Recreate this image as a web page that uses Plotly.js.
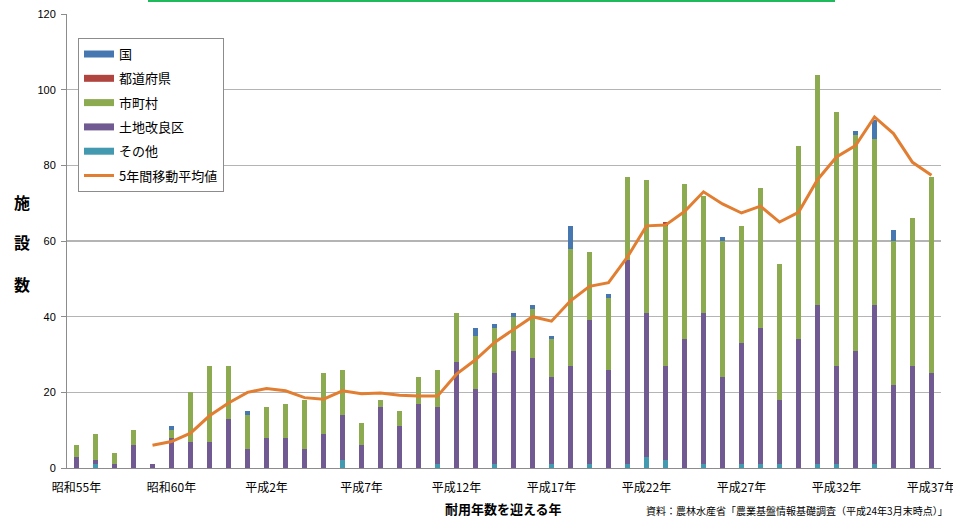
<!DOCTYPE html>
<html>
<head>
<meta charset="utf-8">
<script src="https://cdn.plot.ly/plotly-3.0.1.min.js"></script>
<style>
  html, body { margin: 0; padding: 0; background: #fff; }
  #chart { width: 953px; height: 518px; }
</style>
</head>
<body>
<div id="chart"></div>
<script>
// 耐用年数を迎える年 (西暦)
const years = [1980, 1981, 1982, 1983, 1984, 1985, 1986, 1987, 1988, 1989,
               1990, 1991, 1992, 1993, 1994, 1995, 1996, 1997, 1998, 1999,
               2000, 2001, 2002, 2003, 2004, 2005, 2006, 2007, 2008, 2009,
               2010, 2011, 2012, 2013, 2014, 2015, 2016, 2017, 2018, 2019,
               2020, 2021, 2022, 2023, 2024, 2025];

// 目盛りに表示する年と和暦表記
const tickYears  = [1980, 1985, 1990, 1995, 2000, 2005, 2010, 2015, 2020, 2025];
const tickLabels = ['昭和55年', '昭和60年', '平成2年', '平成7年', '平成12年',
                    '平成17年', '平成22年', '平成27年', '平成32年', '平成37年'];

// 管理主体別の施設数
const sonota     = [0, 1, 0, 0, 0, 0, 0, 0, 0, 0,
                    0, 0, 0, 0, 2, 0, 0, 0, 0, 1,
                    0, 0, 1, 0, 0, 1, 0, 1, 0, 1,
                    3, 2, 0, 1, 0, 1, 1, 1, 0, 1,
                    1, 0, 1, 0, 0, 0];
const kairyoku   = [3, 1, 1, 6, 1, 8, 7, 7, 13, 5,
                    8, 8, 5, 9, 12, 6, 16, 11, 17, 15,
                    28, 21, 24, 31, 29, 23, 27, 38, 26, 54,
                    38, 25, 34, 40, 24, 32, 36, 17, 34, 42,
                    26, 31, 42, 22, 27, 25];
const shichoson  = [3, 7, 3, 4, 0, 2, 13, 20, 14, 9,
                    8, 9, 13, 16, 12, 6, 2, 4, 7, 10,
                    13, 14, 12, 9, 13, 10, 31, 18, 19, 22,
                    35, 37, 41, 31, 36, 31, 37, 36, 51, 61,
                    67, 57, 44, 38, 39, 52];
const todofuken  = [0, 0, 0, 0, 0, 0, 0, 0, 0, 0,
                    0, 0, 0, 0, 0, 0, 0, 0, 0, 0,
                    0, 0, 0, 0, 0, 0, 0, 0, 0, 0,
                    0, 1, 0, 0, 0, 0, 0, 0, 0, 0,
                    0, 0, 0, 0, 0, 0];
const kuni       = [0, 0, 0, 0, 0, 1, 0, 0, 0, 1,
                    0, 0, 0, 0, 0, 0, 0, 0, 0, 0,
                    0, 2, 1, 1, 1, 1, 6, 0, 1, 0,
                    0, 0, 0, 0, 1, 0, 0, 0, 0, 0,
                    0, 1, 5, 3, 0, 0];

// 5年間移動平均値
const movingAvg  = [null, null, null, null, 6, 7, 9.2, 13.8, 17.2, 20,
                    21, 20.4, 18.6, 18.2, 20.4, 19.6, 19.8, 19.2, 19.0, 19.0,
                    24.8, 28.6, 33.2, 36.6, 40, 38.8, 44.2, 48, 49, 55.8,
                    64, 64.2, 67.8, 73, 69.8, 67.4, 69.2, 65, 67.6, 76.2,
                    82.2, 85.2, 92.8, 88.4, 80.8, 77.4];

const colors = {
  kuni: '#4677B0',
  todofuken: '#B0443F',
  shichoson: '#8CAA4F',
  kairyoku: '#715A92',
  sonota: '#4399B0',
  avg: '#E27E32'
};

const FONT = '"Liberation Sans", Arial, "Noto Sans CJK JP", sans-serif';
const JFONT = '"Noto Sans CJK JP", "Liberation Sans", sans-serif';

function barTrace(name, values, color) {
  return {
    type: 'bar', name: name, x: years, y: values,
    marker: { color: color },
    showlegend: false, hoverinfo: 'x+y+name'
  };
}

// 凡例用の横長の色見本
function legendSwatch(name, color, width) {
  return {
    type: 'scatter', mode: 'lines', name: name, x: [null], y: [null],
    line: { color: color, width: width }, legendgroup: name, showlegend: true,
    hoverinfo: 'skip'
  };
}

const traces = [
  barTrace('その他', sonota, colors.sonota),
  barTrace('土地改良区', kairyoku, colors.kairyoku),
  barTrace('市町村', shichoson, colors.shichoson),
  barTrace('都道府県', todofuken, colors.todofuken),
  barTrace('国', kuni, colors.kuni),
  legendSwatch('国', colors.kuni, 7),
  legendSwatch('都道府県', colors.todofuken, 7),
  legendSwatch('市町村', colors.shichoson, 7),
  legendSwatch('土地改良区', colors.kairyoku, 7),
  legendSwatch('その他', colors.sonota, 7),
  {
    type: 'scatter', mode: 'lines', name: '5年間移動平均値',
    x: years, y: movingAvg, connectgaps: false,
    line: { color: colors.avg, width: 3 },
    legendgroup: 'avg', showlegend: true
  }
];

const layout = {
  width: 953, height: 518,
  margin: { l: 67, r: 12, t: 14, b: 50, pad: 0 },
  paper_bgcolor: '#ffffff', plot_bgcolor: '#ffffff',
  font: { family: FONT, size: 12, color: '#000' },
  barmode: 'stack',
  bargap: 0.73,
  xaxis: {
    type: 'linear',
    range: [1979.5, 2025.5],
    tickvals: tickYears, ticktext: tickLabels,
    tickfont: { family: JFONT, size: 12, color: '#000' },
    ticks: '', showgrid: false, zeroline: false,
    showline: true, linecolor: '#8c8c8c', linewidth: 1,
    ticklabelstandoff: 9,
    ticklabeloverflow: 'allow',
    fixedrange: true
  },
  yaxis: {
    range: [0, 120], dtick: 20,
    tickfont: { family: FONT, size: 11, color: '#000' },
    ticks: 'outside', ticklen: 5, tickcolor: '#8c8c8c',
    showgrid: true, gridcolor: '#b4b4b4', gridwidth: 1.3,
    zeroline: false, showline: true, linecolor: '#8c8c8c', linewidth: 1,
    ticklabelstandoff: 3,
    fixedrange: true
  },
  legend: {
    x: 0.0126, y: 0.947, xanchor: 'left', yanchor: 'top',
    bgcolor: '#ffffff', bordercolor: '#8c8c8c', borderwidth: 1,
    font: { family: JFONT, size: 13, color: '#000' },
    traceorder: 'grouped', tracegroupgap: 4.4,
    itemclick: false, itemdoubleclick: false
  },
  annotations: [
    { text: '<b>施</b>', xref: 'paper', yref: 'paper', x: 0, y: 1, xshift: -45, yshift: -188,
      xanchor: 'center', yanchor: 'middle', showarrow: false, font: { family: JFONT, size: 16 } },
    { text: '<b>設</b>', xref: 'paper', yref: 'paper', x: 0, y: 1, xshift: -45, yshift: -228,
      xanchor: 'center', yanchor: 'middle', showarrow: false, font: { family: JFONT, size: 16 } },
    { text: '<b>数</b>', xref: 'paper', yref: 'paper', x: 0, y: 1, xshift: -45, yshift: -270,
      xanchor: 'center', yanchor: 'middle', showarrow: false, font: { family: JFONT, size: 16 } },
    { text: '<b>耐用年数を迎える年</b>', xref: 'paper', yref: 'paper', x: 0.5, y: 0, xshift: -1, yshift: -40,
      xanchor: 'center', yanchor: 'middle', showarrow: false, font: { family: JFONT, size: 13 } },
    { text: '資料：農林水産省「農業基盤情報基礎調査（平成24年3月末時点）」', xref: 'paper', yref: 'paper',
      x: 1, y: 0, xshift: 9, yshift: -42, xanchor: 'right', yanchor: 'middle', showarrow: false,
      font: { family: JFONT, size: 10 } }
  ],
  shapes: [
    // 上部の見出し枠の下辺
    { type: 'rect', xref: 'paper', yref: 'paper', x0: 0.0938, x1: 0.8776, y0: 1.0286, y1: 1.08,
      line: { color: '#1FBA5C', width: 2 }, fillcolor: 'rgba(0,0,0,0)' }
  ]
};

Plotly.newPlot('chart', traces, layout, { displayModeBar: false, staticPlot: true });
</script>
</body>
</html>
